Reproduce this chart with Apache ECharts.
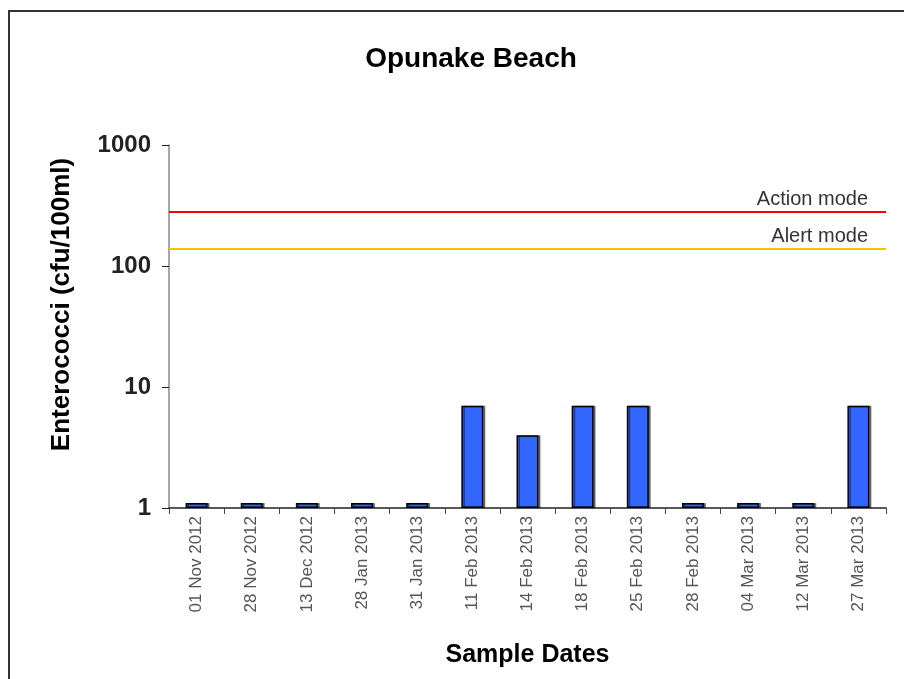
<!DOCTYPE html>
<html>
<head>
<meta charset="utf-8">
<title>Opunake Beach</title>
<script src="https://cdn.jsdelivr.net/npm/echarts@6/dist/echarts.min.js"></script>
<style>
  html, body { margin: 0; padding: 0; background: #fff; }
  #chart { width: 904px; height: 679px; }
</style>
</head>
<body>
<div id="chart"></div>
<script>
// sample dates and enterococci counts (cfu/100ml)
var sampleDates = ['01 Nov 2012', '28 Nov 2012', '13 Dec 2012', '28 Jan 2013', '31 Jan 2013',
    '11 Feb 2013', '14 Feb 2013', '18 Feb 2013', '25 Feb 2013', '28 Feb 2013',
    '04 Mar 2013', '12 Mar 2013', '27 Mar 2013'];
var counts = [1.1, 1.1, 1.1, 1.1, 1.1, 7, 4, 7, 7, 1.1, 1.1, 1.1, 7];

// guideline levels
var actionLevel = 280;
var alertLevel = 140;

var myChart = echarts.init(document.getElementById('chart'));

var option = {
    animation: false,
    textStyle: {fontFamily: 'Liberation Sans, Arial, sans-serif'},
    title: {
        text: 'Opunake Beach',
        left: 466,
        textAlign: 'center',
        top: 40,
        textStyle: {fontSize: 28, fontWeight: 'bold', color: '#000'}
    },
    graphic: [{
        type: 'rect',
        shape: {x: 9, y: 11, width: 920, height: 700},
        style: {fill: 'none', stroke: '#333', lineWidth: 2},
        silent: true
    }],
    grid: {left: 169, right: 18, top: 145, bottom: 171},
    xAxis: {
        type: 'category',
        data: sampleDates,
        name: 'Sample Dates',
        nameLocation: 'middle',
        nameGap: 135,
        nameTextStyle: {fontSize: 25, fontWeight: 'bold', color: '#000'},
        axisLine: {lineStyle: {color: '#222', width: 1.5}},
        axisTick: {show: true, length: 6, lineStyle: {color: '#444'}},
        axisLabel: {rotate: 90, fontSize: 17, color: '#555', margin: 8, interval: 0}
    },
    yAxis: {
        type: 'log',
        logBase: 10,
        min: 1,
        max: 1000,
        name: 'Enterococci (cfu/100ml)',
        nameLocation: 'middle',
        nameGap: 94,
        nameTextStyle: {fontSize: 26, fontWeight: 'bold', color: '#000', padding: [0, 0, 0, 44]},
        axisLine: {show: true, lineStyle: {color: '#888', width: 1.5}},
        axisTick: {show: true, length: 7, lineStyle: {color: '#222'}},
        axisLabel: {
            fontSize: 24, fontWeight: 'bold', color: '#222', margin: 18,
            formatter: function (v) { return String(v); }
        },
        splitLine: {show: false}
    },
    series: [{
        type: 'bar',
        data: counts,
        barWidth: 22,
        itemStyle: {
            color: '#3366ff',
            borderColor: '#000',
            borderWidth: 1.5,
            shadowColor: 'rgba(0,0,0,0.45)',
            shadowOffsetX: 2,
            shadowBlur: 0
        },
        markLine: {
            silent: true,
            symbol: 'none',
            data: [
                {name: 'Action mode', yAxis: actionLevel, lineStyle: {color: '#ff0000', width: 2, type: 'solid'}},
                {name: 'Alert mode', yAxis: alertLevel, lineStyle: {color: '#ffc000', width: 2, type: 'solid'}}
            ],
            label: {
                position: 'insideEndTop',
                formatter: '{b}',
                fontSize: 20,
                color: '#333',
                distance: [18, 2]
            }
        }
    }]
};

myChart.setOption(option);
</script>
</body>
</html>
